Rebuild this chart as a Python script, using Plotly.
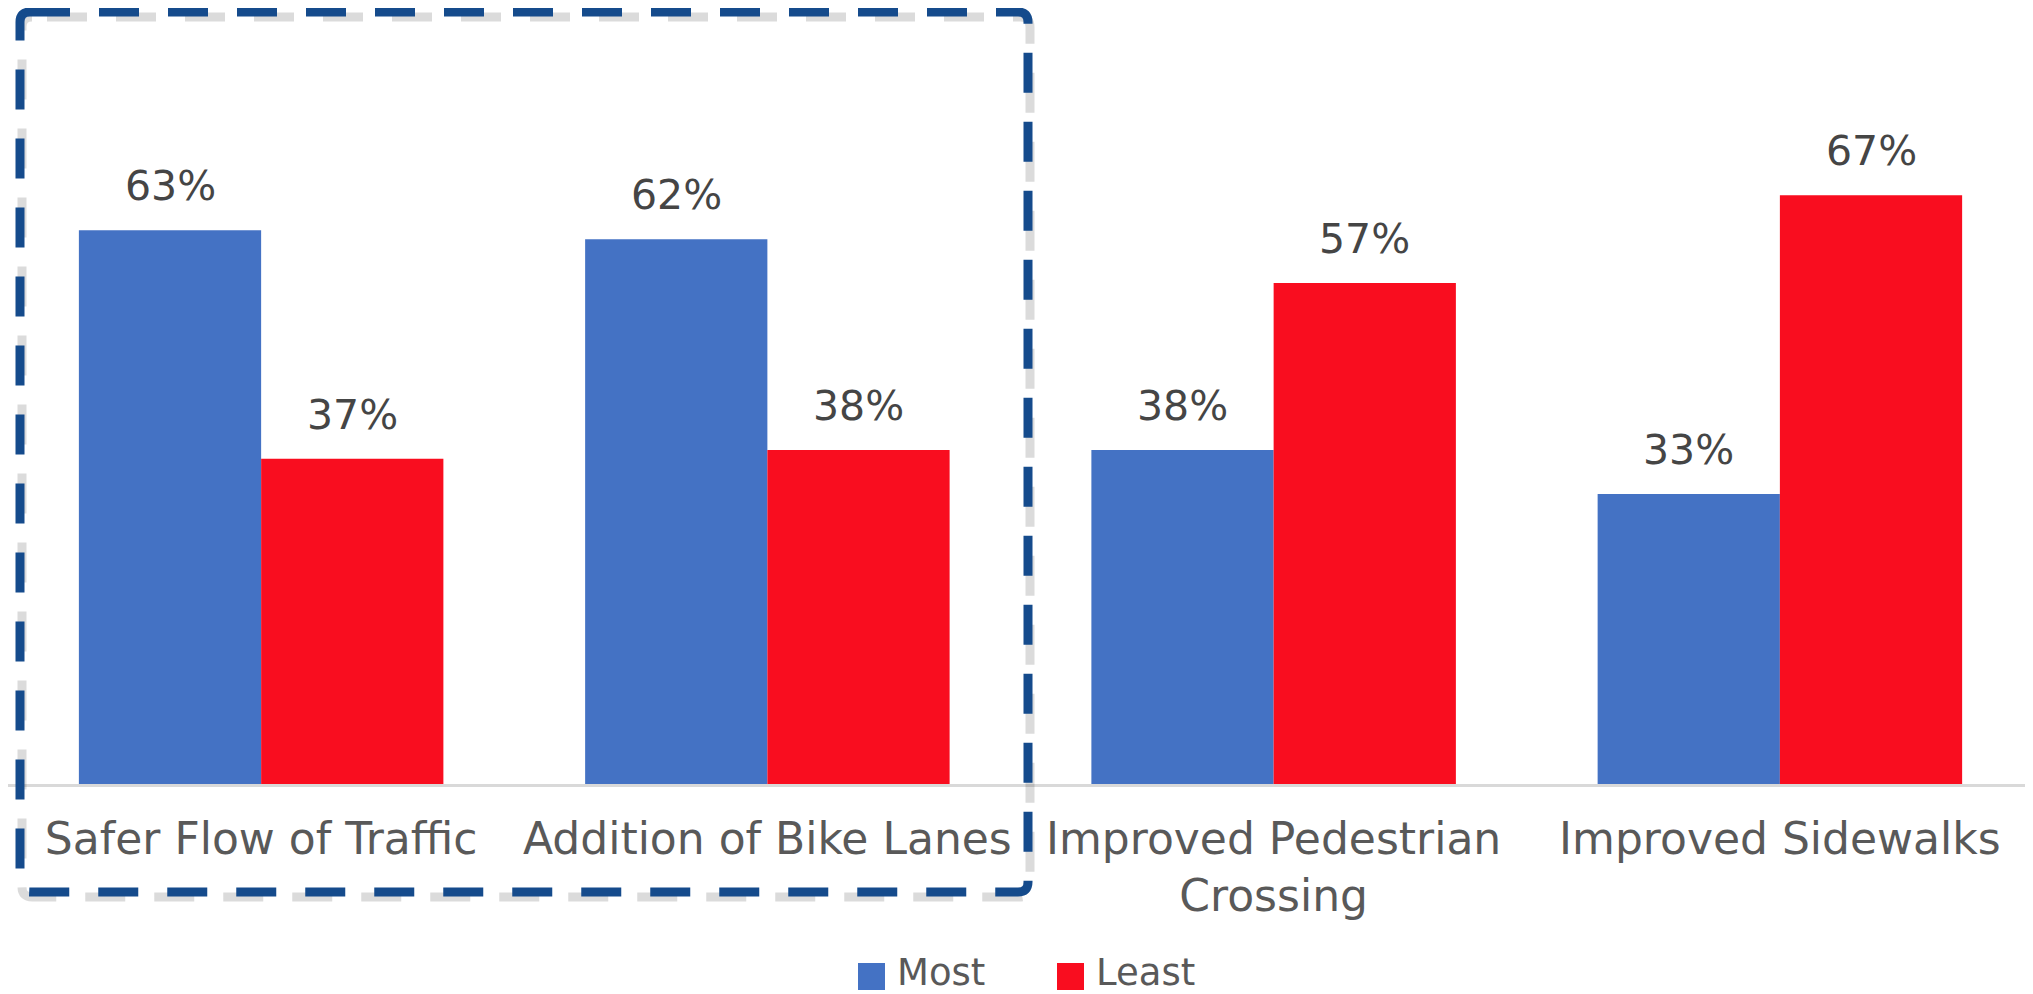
import plotly.graph_objects as go

# ---- data ----
categories = ["Safer Flow of Traffic", "Addition of Bike Lanes",
              "Improved Pedestrian<br>Crossing", "Improved Sidewalks"]
most = [63, 62, 38, 33]
least = [37, 38, 57, 67]
series_names = ["Most", "Least"]

# ---- style ----
BLUE = "#4472C4"
RED = "#F90D1F"
TEXT = "#595959"
BOX = "#154B8C"
FONT = "DejaVu Sans"
OFF = 8                      # page body margin
W, H = 2033 - OFF, 994 - OFF
ML, MR, MT = 0, 0, 0
BASE = 784                   # baseline in page pixels
PH = BASE - OFF - MT
MB = H - MT - PH
PW = W - ML - MR
BARGAP = 0.28


def px(x):
    return (x - OFF - ML) / PW


def py(y):
    return (MT + PH - (y - OFF)) / PH


fig = go.Figure()
for name, vals, col in [(series_names[0], most, BLUE), (series_names[1], least, RED)]:
    fig.add_bar(x=categories, y=vals, name=name, marker_color=col,
                marker_line_width=0, showlegend=False)

bar_half = PW / len(categories) * (1 - BARGAP) / 4
annotations = []
for sign, vals in [(-1, most), (1, least)]:
    for c, v in zip(categories, vals):
        annotations.append(dict(
            x=c, y=v, xref="x", yref="y", text=f"{v}%", showarrow=False,
            xanchor="center", yanchor="bottom", xshift=sign * bar_half, yshift=18,
            font=dict(family=FONT, size=41, color="#454545")))

# manual legend (large squares as in the reference)
shapes = []
legend_items = [(series_names[0], BLUE, 858), (series_names[1], RED, 1057)]
for name, col, x0 in legend_items:
    shapes.append(dict(type="rect", xref="paper", yref="paper",
                       x0=px(x0), x1=px(x0 + 27), y0=py(990), y1=py(963),
                       fillcolor=col, line=dict(width=0)))
    annotations.append(dict(x=px(x0 + 37), y=py(972), xref="paper", yref="paper",
                            text=name, showarrow=False, xanchor="left", yanchor="middle",
                            font=dict(family=FONT, size=37, color=TEXT)))

# dashed rounded highlight box
L, T, R, B, r = 20, 12, 1028, 892, 10


def box_path(dx=0, dy=0):
    l, t, rr, b = L + dx, T + dy, R + dx, B + dy
    return (f"M {px(l + r)},{py(t)} L {px(rr - r)},{py(t)} "
            f"Q {px(rr)},{py(t)} {px(rr)},{py(t + r)} L {px(rr)},{py(b - r)} "
            f"Q {px(rr)},{py(b)} {px(rr - r)},{py(b)} L {px(l + r)},{py(b)} "
            f"Q {px(l)},{py(b)} {px(l)},{py(b - r)} L {px(l)},{py(t + r)} "
            f"Q {px(l)},{py(t)} {px(l + r)},{py(t)} Z")


shapes.append(dict(type="path", xref="paper", yref="paper", path=box_path(2, 5),
                   line=dict(color="rgba(0,0,0,0.14)", width=9, dash="0px,15px,40px,14px")))
shapes.append(dict(type="path", xref="paper", yref="paper", path=box_path(),
                   line=dict(color=BOX, width=9, dash="40px,29px")))

fig.update_layout(
    width=W, height=H,
    margin=dict(l=ML, r=MR, t=MT, b=MB, pad=0),
    barmode="group", bargap=BARGAP, bargroupgap=0,
    plot_bgcolor="white", paper_bgcolor="white",
    showlegend=False,
    annotations=annotations, shapes=shapes,
    xaxis=dict(showline=True, linecolor="#D9D9D9", linewidth=3, ticks="",
               showgrid=False, zeroline=False,
               tickfont=dict(family=FONT, size=44, color=TEXT),
               ticklabelstandoff=14),
    yaxis=dict(visible=False, range=[0, 88.3], showgrid=False, zeroline=False),
)

fig.write_html("out.html")
